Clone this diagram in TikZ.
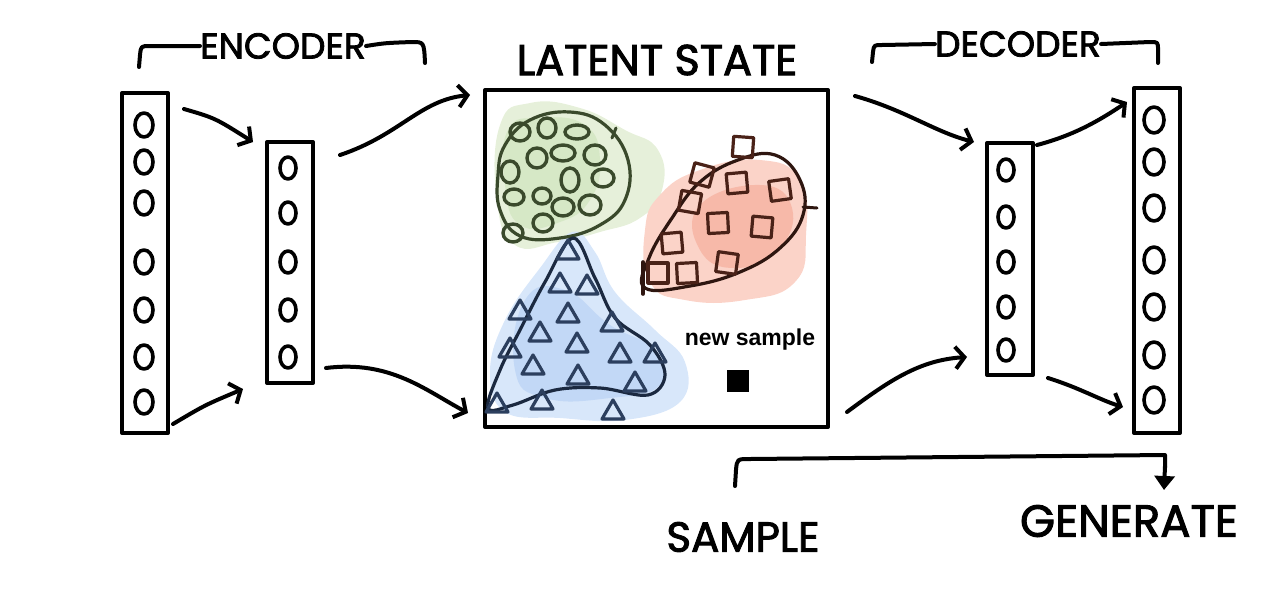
\documentclass[tikz,border=0pt]{standalone}
\usepackage{fontspec}
\newfontfamily\hand[FakeBold=2.2]{Poppins}
\newfontfamily\helv{Liberation Sans}
\usetikzlibrary{arrows.meta}
\definecolor{gbg}{HTML}{E6F0DA}
\definecolor{gbg2}{HTML}{D6E8C6}
\definecolor{gink}{HTML}{3A4A2C}
\definecolor{rbg}{HTML}{FBD3C8}
\definecolor{rbg2}{HTML}{F7B9A9}
\definecolor{rink}{HTML}{4A2218}
\definecolor{rline}{HTML}{2E1610}
\definecolor{bbg}{HTML}{D8E7FA}
\definecolor{bbg2}{HTML}{C2D8F6}
\definecolor{bink}{HTML}{2C3F5E}
\definecolor{bline}{HTML}{1B2940}
\tikzset{
  ink/.style={line width=4pt, line cap=round, line join=round},
  colbox/.style={draw, ink, inner sep=0pt, minimum width=46pt},
  unit/.style={ink, line width=3.6pt},
  arr/.style={ink, -{Straight Barb[length=9pt,width=22pt,line width=4pt]}},
  lbl/.style={font=\hand, inner sep=0pt},
  gcirc/.style={draw=gink, line width=3.4pt},
  rsq/.style={draw=rink, line width=3.2pt, line join=round},
  btri/.style={draw=bink, line width=3.2pt, line join=round},
}
\begin{document}
\begin{tikzpicture}[x=1pt,y=-1pt]
\useasboundingbox (0,0) rectangle (1274,600);

% ---------------- encoder columns
\node[colbox, minimum height=340pt] (in) at (145,263) {};
\foreach \y in {125,162,203,262,310,357,402}
  \draw[unit] (144,\y) ellipse [x radius=9pt, y radius=12pt];
\node[colbox, minimum height=241pt] (enc) at (290,262.5) {};
\foreach \y in {168,213,262,310,357}
  \draw[unit] (288,\y) ellipse [x radius=8pt, y radius=11pt];

% ---------------- decoder columns
\node[colbox, minimum height=232pt] (dec) at (1010,259) {};
\foreach \y in {170,217,262,307,350}
  \draw[unit] (1006,\y) ellipse [x radius=8pt, y radius=11pt];
\node[colbox, minimum height=345pt] (out) at (1157,260.5) {};
\foreach \y in {120,162,208,260,307,355,400}
  \draw[unit] (1154,\y) ellipse [x radius=10pt, y radius=13pt];

% ---------------- latent box
\node[draw, ink, minimum width=343pt, minimum height=337pt] (lat) at (656.5,258.5) {};

% background blobs
\fill[gbg] plot[smooth cycle, tension=0.8] coordinates {(500,125) (530,103) (580,108) (625,130) (658,150) (662,190) (640,218) (600,232) (558,242) (515,245) (497,200)};
\fill[gbg2] plot[smooth cycle, tension=0.8] coordinates {(508,130) (540,118) (585,125) (600,160) (590,200) (560,222) (520,225) (505,185)};
\fill[rbg] plot[smooth cycle, tension=0.8] coordinates {(660,195) (700,170) (760,160) (800,180) (806,235) (795,282) (745,300) (685,300) (650,282) (645,230)};
\fill[rbg2] plot[smooth cycle, tension=0.8] coordinates {(700,205) (760,185) (792,208) (778,250) (735,268) (700,250)};
\fill[bbg] plot[smooth cycle, tension=0.7] coordinates {(572,232) (595,252) (615,292) (655,330) (685,362) (680,402) (625,420) (560,418) (505,412) (490,372) (505,320) (540,268)};
\fill[bbg2] plot[smooth cycle, tension=0.8] coordinates {(525,300) (565,290) (610,325) (655,350) (660,385) (610,398) (545,398) (515,370)};

% green cluster
\draw[gink, line width=3.2pt] plot[smooth cycle, tension=0.7] coordinates {(505,145) (530,120) (570,112) (605,125) (628,160) (625,200) (600,225) (560,238) (520,236) (500,210) (498,175)};
\draw[gink, line width=3pt, line cap=round] (612,138) -- (616,128);
\foreach \x/\y/\rx/\ry in {520/132/10/9, 547/128/9/10, 577/132/12/7, 537/158/10/10, 563/153/12/8, 595/155/11/10, 510/172/9/11, 570/180/9/12, 603/178/11/9, 514/197/10/8, 542/196/9/8, 563/207/11/9, 590/205/11/10, 543/223/10/9, 513/233/10/9}
  \draw[gcirc] (\x,\y) ellipse [x radius=\rx pt, y radius=\ry pt];

% red cluster
\draw[rline, line width=3.2pt, line cap=round] plot[smooth cycle, tension=0.7] coordinates {(645,288) (649,258) (672,218) (700,182) (738,160) (775,155) (800,180) (803,215) (780,248) (740,272) (690,286)};
\draw[rline, line width=3.6pt, line cap=round] (643,262) -- (643,294);
\draw[rline, line width=3pt, line cap=round] (803,207) -- (817,208);
\foreach \x/\y/\r in {743/147/-4, 702/175/-15, 737/183/5, 780/190/8, 690/202/-10, 718/223/3, 762/227/-5, 672/243/5, 658/273/0, 687/273/3, 727/263/-8}
  \draw[rsq, rotate around={\r:(\x,\y)}] (\x-10,\y-10) rectangle (\x+10,\y+10);

% blue cluster
\draw[bline, line width=3.2pt, line cap=round] plot[smooth cycle, tension=0.6] coordinates {(573,238) (595,278) (615,318) (650,345) (665,375) (648,395) (600,388) (555,390) (513,405) (488,408) (500,370) (520,330) (545,282)};
\foreach \x/\y in {568/250, 560/283, 587/285, 520/310, 568/313, 612/322, 540/332, 577/343, 510/348, 620/353, 655/353, 533/365, 578/375, 635/382, 542/400, 613/410, 497/403}
  \draw[btri] (\x,\y-10) -- (\x+11,\y+9) -- (\x-11,\y+9) -- cycle;

% new sample
\node[font=\helv\bfseries\fontsize{23}{26}\selectfont, inner sep=0pt] (ns) at (750,340) {new sample};
\node[fill=black, minimum size=22pt, inner sep=0pt] (smp) at (738,381) {};

% ---------------- arrows
\coordinate (a1s) at (184,109); \coordinate (a1e) at (253,142);
\coordinate (a2s) at (173,424); \coordinate (a2e) at (243,389);
\coordinate (a3s) at (340,155); \coordinate (a3e) at (470,95);
\coordinate (a4s) at (326,368); \coordinate (a4e) at (468,413);
\coordinate (a5s) at (855,96);  \coordinate (a5e) at (974,142);
\coordinate (a6s) at (847,412); \coordinate (a6e) at (967,357);
\coordinate (a7s) at (1037,145); \coordinate (a7e) at (1127,102);
\coordinate (a8s) at (1048,378); \coordinate (a8e) at (1123,407);
\draw[arr] (a1s) .. controls (215,118) .. (a1e);
\draw[arr] (a2s) .. controls (205,405) .. (a2e);
\draw[arr] (a3s) .. controls (400,135) and (420,100) .. (a3e);
\draw[arr] (a4s) .. controls (390,360) and (425,390) .. (a4e);
\draw[arr] (a5s) .. controls (905,110) and (935,132) .. (a5e);
\draw[arr] (a6s) .. controls (890,380) and (920,360) .. (a6e);
\draw[arr] (a7s) .. controls (1075,135) and (1100,120) .. (a7e);
\draw[arr] (a8s) .. controls (1080,388) and (1100,400) .. (a8e);

% ---------------- labels and brackets
\node[lbl, font=\hand\fontsize{36}{40}\selectfont] (enclbl) at (283,46) {ENCODER};
\draw[ink] (139,67) -- (140,55) .. controls (141,46) .. (150,46) -- (enclbl.west);
\draw[ink] (enclbl.east) .. controls (385,43) .. (412,42) .. controls (424,42) .. (425,63);

\node[lbl, font=\hand\fontsize{43}{46}\selectfont] (latlbl) at (657,60) {LATENT STATE};

\node[lbl, font=\hand\fontsize{36}{40}\selectfont] (declbl) at (1018,44) {DECODER};
\draw[ink] (872,62) -- (873,52) .. controls (874,45) .. (882,45) -- (declbl.west);
\draw[ink] (declbl.east) -- (1150,42) .. controls (1158,42) .. (1158,50) -- (1158,63);

\node[lbl, font=\hand\fontsize{42}{46}\selectfont] (smplbl) at (743,537) {SAMPLE};
\node[lbl, font=\hand\fontsize{45}{48}\selectfont] (genlbl) at (1129,521) {GENERATE};
\coordinate (bl) at (735,486);
\coordinate (bt) at (1164,490);
\draw[ink] (bl) -- (736,470) .. controls (737,459) .. (750,459) -- (1165,455) -- (1165,468);
\draw[ink, -{Triangle[length=14pt,width=20pt]}] (1165,466) -- (bt);
\end{tikzpicture}
\end{document}
